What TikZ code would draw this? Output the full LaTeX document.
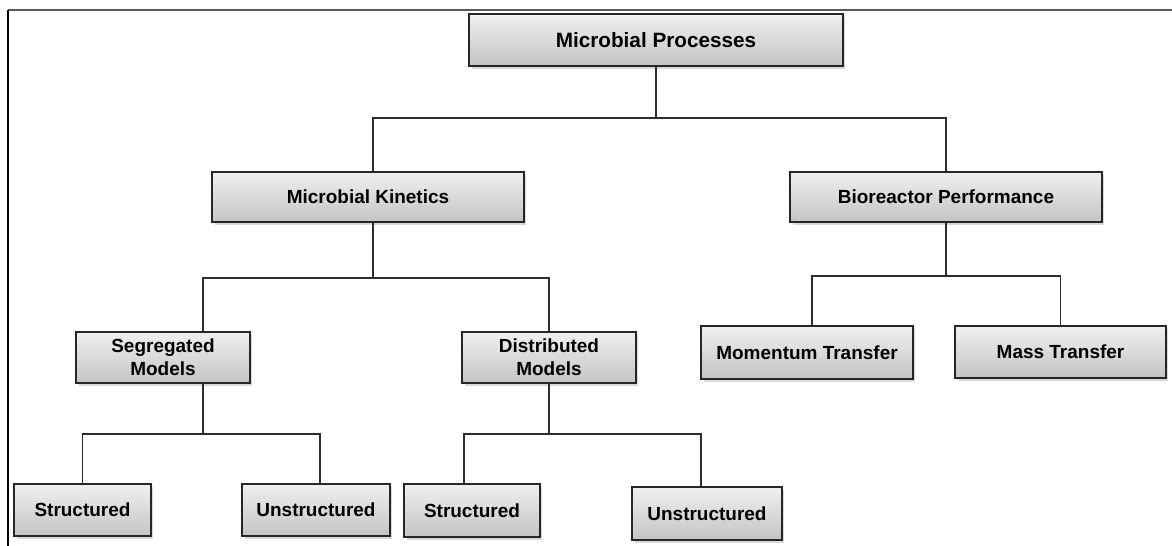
\documentclass[tikz,border=0pt]{standalone}
\usepackage{fontspec}
\setmainfont{Liberation Sans}
\usepackage{tikz}
\usetikzlibrary{shadows}
\definecolor{boxtop}{RGB}{240,240,240}
\definecolor{boxbot}{RGB}{196,196,196}
\definecolor{edge}{RGB}{38,38,38}
\definecolor{wire}{RGB}{45,45,45}
\definecolor{frame}{RGB}{90,90,90}
\tikzset{
  procbox/.style={draw=edge, line width=0.8pt, top color=boxtop, bottom color=boxbot,
    inner sep=0pt, align=center, font=\fontsize{10.8}{13}\selectfont\bfseries,
    drop shadow={shadow xshift=0.5mm, shadow yshift=-0.6mm, opacity=0.3}},
  wirelink/.style={draw=wire, line width=1pt}
}
\newcommand{\drawwire}{\draw[wirelink]}
\begin{document}
\begin{tikzpicture}[x=0.02cm, y=-0.02cm]
\useasboundingbox (0,0) rectangle (1172,546);
% frame
\draw[frame, line width=1.3pt] (8,10) -- (1172,10);
\draw[black, line width=0.6pt] (8,10) -- (8,546);
% bus points
\coordinate (j1) at (656,118);
\coordinate (j2) at (373,278);
\coordinate (j3) at (946,276);
\coordinate (j4) at (203,434);
\coordinate (j5) at (549,434);
% boxes
\node[procbox, minimum width=7.48cm, minimum height=1.04cm, font=\fontsize{11.8}{14}\selectfont\bfseries] (mp) at (656,40) {Microbial Processes};
\node[procbox, minimum width=6.24cm, minimum height=1cm] (mk) at (368,197) {Microbial Kinetics};
\node[procbox, minimum width=6.24cm, minimum height=1cm] (bm) at (946,197) {Bioreactor Performance};
\node[procbox, minimum width=3.48cm, minimum height=1.02cm] (sm) at (163,357.5) {Segregated\\Models};
\node[procbox, minimum width=3.48cm, minimum height=1.02cm] (dm) at (549,357.5) {Distributed\\Models};
\node[procbox, minimum width=4.24cm, minimum height=1.06cm] (mt) at (807,352.5) {Momentum Transfer};
\node[procbox, minimum width=4.22cm, minimum height=1.04cm] (ma) at (1060.5,352) {Mass Transfer};
\node[procbox, minimum width=2.74cm, minimum height=1.04cm] (s1) at (82.5,510) {Structured};
\node[procbox, minimum width=2.96cm, minimum height=1.04cm] (u1) at (316,510) {Unstructured};
\node[procbox, minimum width=2.72cm, minimum height=1.06cm] (s2) at (472,510.5) {Structured};
\node[procbox, minimum width=3cm, minimum height=1.06cm] (u2) at (707,513.5) {Unstructured};
% wires
\drawwire ([xshift=1mm]mk.north) |- (j1) -| (bm.north);
\drawwire ([xshift=0.8cm]sm.north) |- (j2) -| (dm.north);
\drawwire ([xshift=1mm]mt.north) |- (j3) -| (ma.north);
\drawwire (s1.north) |- (j4) -| ([xshift=0.8mm]u1.north);
\drawwire ([xshift=-1.6mm]s2.north) |- (j5) -| ([xshift=-1.2mm]u2.north);
% stems down from parents
\drawwire (mp.south) -- (j1);
\drawwire ([xshift=1mm]mk.south) -- (j2);
\drawwire (bm.south) -- (j3);
\drawwire ([xshift=0.8cm]sm.south) -- (j4);
\drawwire (dm.south) -- (j5);
\end{tikzpicture}
\end{document}
